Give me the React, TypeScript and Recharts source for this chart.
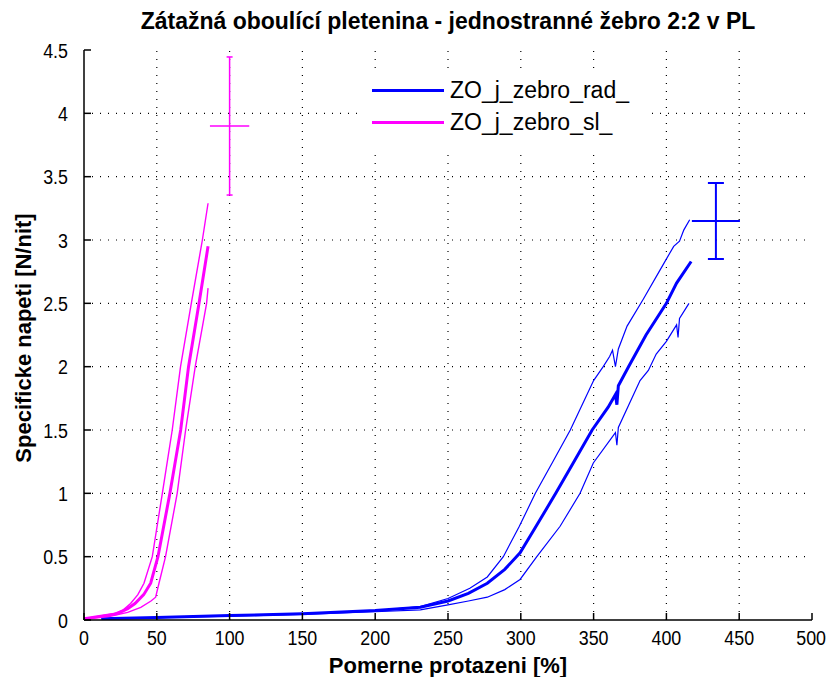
import React from "react";
import {
  ComposedChart,
  Line,
  Scatter,
  ErrorBar,
  XAxis,
  YAxis,
  ReferenceLine,
} from "recharts";

const FONT = "Arial, 'Liberation Sans', Helvetica, sans-serif";
const BLUE = "#0000ff";
const MAGENTA = "#ff00ff";
const CHART_W = 828;

const xTicks = [0, 50, 100, 150, 200, 250, 300, 350, 400, 450, 500];
const yTicks = [0, 0.5, 1, 1.5, 2, 2.5, 3, 3.5, 4, 4.5];

// ZO_j_zebro_rad_ (blue): upper, mean, lower envelope
const radUpperX = [12, 50, 100, 150, 200, 231, 250, 265, 277, 288, 299, 310, 322, 334, 350, 356.6, 361, 363, 365, 367, 373, 384, 395, 405, 409, 412, 416];
const radUpperY = [0.01, 0.02, 0.035, 0.05, 0.075, 0.105, 0.17, 0.25, 0.34, 0.5, 0.74, 1.0, 1.25, 1.5, 1.89, 2.0, 2.08, 2.13, 2.0, 2.14, 2.32, 2.53, 2.75, 2.95, 2.99, 3.08, 3.16];

const radMeanX = [12, 50, 100, 150, 200, 231, 250, 264, 277, 289, 299.5, 310.5, 324, 336, 349, 360, 365, 366, 367, 374, 386, 400, 407, 417];
const radMeanY = [0.01, 0.02, 0.035, 0.05, 0.075, 0.1, 0.15, 0.21, 0.29, 0.4, 0.53, 0.74, 1.0, 1.24, 1.5, 1.68, 1.78, 1.7, 1.85, 2.0, 2.25, 2.5, 2.66, 2.83];

const radLowerX = [12, 50, 100, 150, 200, 231, 250, 264, 277, 289, 299.5, 311, 327, 340.7, 349.8, 365, 366, 367, 381.9, 387.6, 393, 400, 407, 408, 409, 415.5];
const radLowerY = [0.01, 0.018, 0.03, 0.045, 0.065, 0.08, 0.12, 0.15, 0.18, 0.24, 0.32, 0.5, 0.74, 1.0, 1.24, 1.48, 1.38, 1.52, 1.89, 1.97, 2.1, 2.2, 2.33, 2.23, 2.38, 2.5];

// ZO_j_zebro_sl_ (magenta): upper, mean, lower envelope
const slUpperX = [0, 20.6, 27, 32, 37, 41.2, 46.9, 53.8, 60.6, 66.3, 73.7, 81.3, 85.2];
const slUpperY = [0.01, 0.05, 0.08, 0.13, 0.2, 0.29, 0.5, 1.0, 1.5, 2.0, 2.5, 3.0, 3.29];

const slMeanX = [0, 23, 30, 35, 41, 45.8, 50.8, 59, 66.4, 71.8, 79, 85.2];
const slMeanY = [0.01, 0.05, 0.09, 0.13, 0.2, 0.29, 0.5, 1.0, 1.5, 2.0, 2.5, 2.95];

const slLowerX = [0, 18, 30, 39, 46, 49.2, 51.5, 56, 64, 69.8, 76.4, 84.2, 85.2];
const slLowerY = [0.005, 0.03, 0.06, 0.1, 0.15, 0.18, 0.29, 0.5, 1.0, 1.5, 2.0, 2.5, 2.62];

// end-point error bars (mean, +- spread)
const errCenterX = [434, 100];
const errCenterY = [3.15, 3.9];
const errSpreadX = [16.5, 13.5];
const errSpreadY = [0.3, 0.545];

const toPoints = (xs: number[], ys: number[]) => xs.map((x, i) => ({ x, y: ys[i] }));

const radUpper = toPoints(radUpperX, radUpperY);
const radMean = toPoints(radMeanX, radMeanY);
const radLower = toPoints(radLowerX, radLowerY);
const slUpper = toPoints(slUpperX, slUpperY);
const slMean = toPoints(slMeanX, slMeanY);
const slLower = toPoints(slLowerX, slLowerY);

const radErr = [{ x: errCenterX[0], y: errCenterY[0], ex: errSpreadX[0], ey: errSpreadY[0] }];
const slErr = [{ x: errCenterX[1], y: errCenterY[1], ex: errSpreadX[1], ey: errSpreadY[1] }];

const legendItems = [
  { label: "ZO_j_zebro_rad_", color: BLUE },
  { label: "ZO_j_zebro_sl_", color: MAGENTA },
];

const TICK_FS = 21;
const TICK_SX = 0.85; // matlab-ish narrow digits
const axisStroke = { stroke: "#000", strokeWidth: 1.5 };
const gridStyle = { stroke: "#000", strokeWidth: 1.2, strokeDasharray: "1 7" };

function XTick({ x, y, payload }: any) {
  const label = String(payload.value);
  const half = (label.length * 0.556 * TICK_FS * TICK_SX) / 2;
  const cx = Math.min(x, CHART_W - 2 - half);
  return (
    <text
      transform={`translate(${cx},${y}) scale(${TICK_SX},1)`}
      dy="0.75em"
      textAnchor="middle"
      fill="#000"
      fontSize={TICK_FS}
      fontFamily={FONT}
    >
      {label}
    </text>
  );
}

function YTick({ x, y, payload }: any) {
  return (
    <text
      transform={`translate(${x},${y}) scale(${TICK_SX},1)`}
      dy="0.36em"
      textAnchor="end"
      fill="#000"
      fontSize={TICK_FS}
      fontFamily={FONT}
    >
      {String(payload.value)}
    </text>
  );
}

export default function App() {
  return (
    <div style={{ position: "relative", width: CHART_W, height: 677, background: "#fff", fontFamily: FONT }}>
      <style>{"body{margin:0}"}</style>
      <ComposedChart width={CHART_W} height={677} margin={{ top: 50, right: 16, bottom: 0, left: 0 }}>
        {xTicks.slice(1, -1).map((v) => (
          <ReferenceLine key={`gx${v}`} x={v} {...gridStyle} />
        ))}
        {yTicks.slice(1, -1).map((v) => (
          <ReferenceLine key={`gy${v}`} y={v} {...gridStyle} />
        ))}
        <XAxis
          dataKey="x"
          type="number"
          domain={[0, 500]}
          ticks={xTicks}
          interval={0}
          allowDataOverflow
          height={57}
          tickSize={-7}
          tickMargin={16}
          axisLine={axisStroke}
          tickLine={axisStroke}
          tick={<XTick />}
        />
        <XAxis
          xAxisId="top"
          orientation="top"
          type="number"
          domain={[0, 500]}
          ticks={xTicks}
          interval={0}
          allowDataOverflow
          height={0}
          tickSize={-7}
          axisLine={axisStroke}
          tickLine={axisStroke}
          tick={false}
        />
        <YAxis
          type="number"
          domain={[0, 4.5]}
          ticks={yTicks}
          interval={0}
          allowDataOverflow
          width={84}
          tickSize={-7}
          tickMargin={23}
          axisLine={axisStroke}
          tickLine={axisStroke}
          tick={<YTick />}
        />
        <YAxis
          yAxisId="right"
          orientation="right"
          type="number"
          domain={[0, 4.5]}
          ticks={yTicks}
          interval={0}
          allowDataOverflow
          width={0}
          tickSize={-7}
          axisLine={axisStroke}
          tickLine={axisStroke}
          tick={false}
        />
        <Line data={radUpper} dataKey="y" type="linear" stroke={BLUE} strokeWidth={1.2} dot={false} isAnimationActive={false} />
        <Line data={radLower} dataKey="y" type="linear" stroke={BLUE} strokeWidth={1.2} dot={false} isAnimationActive={false} />
        <Line data={radMean} dataKey="y" type="linear" stroke={BLUE} strokeWidth={3} dot={false} isAnimationActive={false} />
        <Line data={slUpper} dataKey="y" type="linear" stroke={MAGENTA} strokeWidth={1.4} dot={false} isAnimationActive={false} />
        <Line data={slLower} dataKey="y" type="linear" stroke={MAGENTA} strokeWidth={1.4} dot={false} isAnimationActive={false} />
        <Line data={slMean} dataKey="y" type="linear" stroke={MAGENTA} strokeWidth={3} dot={false} isAnimationActive={false} />
        <Scatter data={radErr} dataKey="y" shape={() => <g />} isAnimationActive={false}>
          <ErrorBar dataKey="ey" direction="y" width={8} stroke={BLUE} strokeWidth={2} isAnimationActive={false} />
          <ErrorBar dataKey="ex" direction="x" width={0} stroke={BLUE} strokeWidth={2} isAnimationActive={false} />
        </Scatter>
        <Scatter data={slErr} dataKey="y" shape={() => <g />} isAnimationActive={false}>
          <ErrorBar dataKey="ey" direction="y" width={3} stroke={MAGENTA} strokeWidth={1.5} isAnimationActive={false} />
          <ErrorBar dataKey="ex" direction="x" width={0} stroke={MAGENTA} strokeWidth={1.5} isAnimationActive={false} />
        </Scatter>
      </ComposedChart>

      <div
        style={{
          position: "absolute",
          top: 7,
          left: 84,
          width: 728,
          textAlign: "center",
          fontWeight: "bold",
          fontSize: 23,
          lineHeight: "28px",
          whiteSpace: "nowrap",
        }}
      >
        Zátažná oboulící pletenina - jednostranné žebro 2:2 v PL
      </div>

      <div
        style={{
          position: "absolute",
          top: 653,
          left: 84,
          width: 728,
          textAlign: "center",
          fontWeight: "bold",
          fontSize: 22,
          lineHeight: "26px",
          whiteSpace: "nowrap",
        }}
      >
        Pomerne protazeni [%]
      </div>

      <div
        style={{
          position: "absolute",
          left: 24,
          top: 338,
          transform: "translate(-50%, -50%) rotate(-90deg)",
          fontWeight: "bold",
          fontSize: 22,
          lineHeight: "26px",
          whiteSpace: "nowrap",
        }}
      >
        Specificke napeti [N/nit]
      </div>

      <div
        style={{
          position: "absolute",
          left: 358,
          top: 70,
          width: 287,
          height: 78,
          background: "#fff",
        }}
      >
        {legendItems.map((item, i) => (
          <div
            key={item.label}
            style={{ position: "absolute", left: 14, top: 7 + i * 32, height: 26, display: "flex", alignItems: "center" }}
          >
            <div style={{ width: 72, height: 3, background: item.color }} />
            <span style={{ marginLeft: 6, fontSize: 23, lineHeight: "26px" }}>{item.label}</span>
          </div>
        ))}
      </div>
    </div>
  );
}
